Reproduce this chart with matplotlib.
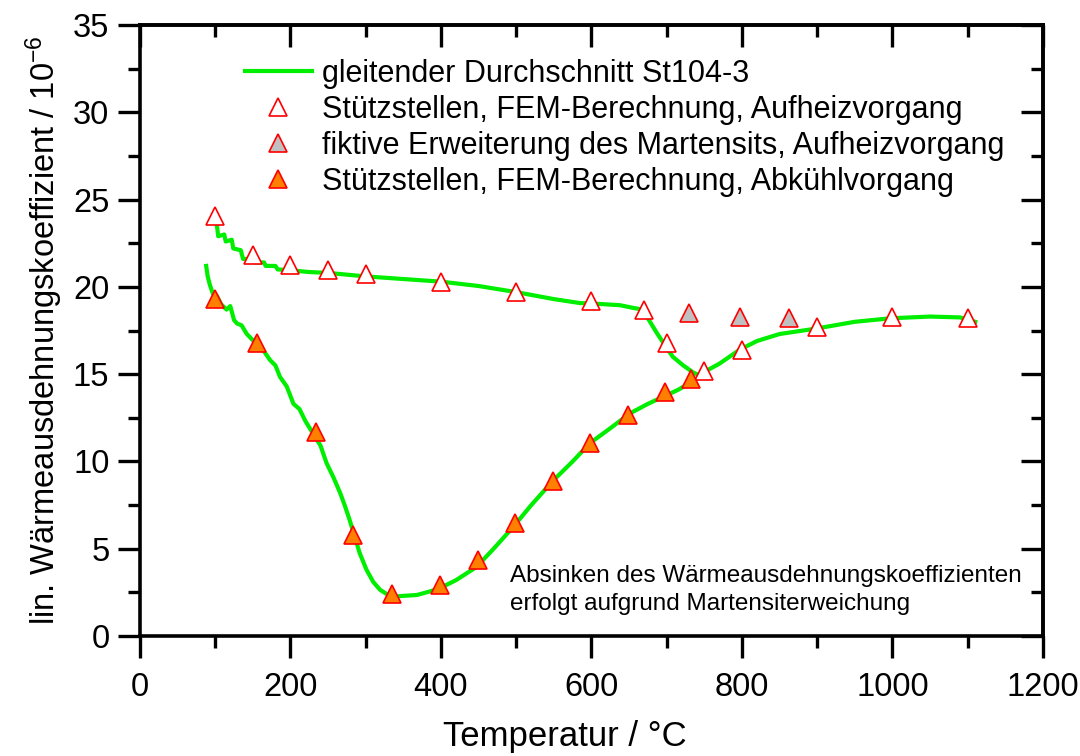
import matplotlib
matplotlib.use("Agg")
import matplotlib.pyplot as plt
from matplotlib.ticker import MultipleLocator

plt.rcParams['font.family'] = ['Liberation Sans', 'DejaVu Sans']
plt.rcParams['mathtext.fontset'] = 'custom'
plt.rcParams['mathtext.rm'] = 'Liberation Sans'
plt.rcParams['mathtext.it'] = 'Liberation Sans'

# --- data: smoothed measurement curve (gleitender Durchschnitt) ---
heat_T = [100, 102, 104, 112, 114, 122, 124, 134, 137, 150, 152, 165, 167, 180, 183,
          200, 225, 250, 275, 300, 350, 400, 450, 500, 550, 585, 600, 638, 655, 668,
          675, 687, 700, 708, 722, 735, 745, 753, 770, 797, 820, 850, 897, 950,
          997, 1050, 1090, 1110]
heat_y = [23.9, 23.6, 22.9, 23.0, 22.6, 22.7, 22.2, 22.1, 21.6, 21.6, 21.4, 21.4, 21.2, 21.2, 21.0,
          20.95, 20.85, 20.8, 20.7, 20.6, 20.45, 20.3, 20.05, 19.7, 19.3, 19.07, 19.05, 18.95, 18.8, 18.7,
          18.2, 17.35, 16.5, 16.0, 15.5, 15.1, 14.9, 15.2, 15.6, 16.4, 16.9, 17.3, 17.6, 18.0,
          18.2, 18.3, 18.25, 18.0]

cool_T = [88, 90, 93, 97, 102, 108, 115, 120, 125, 129, 135, 142, 151, 158, 165, 173, 180, 186,
          195, 204, 212, 220, 230, 240, 248, 257, 266, 272, 279, 286, 292, 301, 310, 319, 328,
          337, 350, 368, 385, 399, 420, 447, 470, 496, 520, 549, 575, 598, 625, 651, 675, 700,
          715, 731, 745]
cool_y = [21.2, 20.6, 20.1, 19.6, 19.5, 19.0, 18.7, 18.9, 18.1, 17.9, 17.8, 17.3, 16.9, 16.8, 16.3, 15.8, 15.5, 14.85,
          14.3, 13.3, 13.0, 12.3, 11.6, 10.9, 9.9, 9.1, 8.2, 7.5, 6.6, 5.6, 4.75, 3.8, 3.1, 2.65, 2.4,
          2.25, 2.3, 2.35, 2.55, 2.75, 3.2, 3.95, 5.0, 6.25, 7.5, 8.9, 10.0, 11.05, 11.9, 12.75, 13.3, 13.8,
          14.1, 14.5, 14.9]

# --- FEM support points, heating ---
fem_heat_T = [100, 150, 200, 250, 300, 400, 500, 600, 670, 700, 750, 800, 900, 1000, 1100]
fem_heat_y = [24.05, 21.8, 21.25, 20.96, 20.73, 20.27, 19.7, 19.2, 18.67, 16.78, 15.18, 16.38, 17.7, 18.27, 18.2]

# --- fictitious martensite extension, heating ---
fict_T = [730, 797, 862]
fict_y = [18.5, 18.27, 18.2]

# --- FEM support points, cooling ---
fem_cool_T = [100, 155, 234, 283, 335, 399, 449, 498, 549, 598, 649, 698, 732]
fem_cool_y = [19.3, 16.8, 11.7, 5.8, 2.4, 2.9, 4.35, 6.5, 8.9, 11.05, 12.65, 14.0, 14.7]

legend_labels = ["gleitender Durchschnitt St104-3",
                 "Stützstellen, FEM-Berechnung, Aufheizvorgang",
                 "fiktive Erweiterung des Martensits, Aufheizvorgang",
                 "Stützstellen, FEM-Berechnung, Abkühlvorgang"]

fig = plt.figure(figsize=(10.8, 7.56), dpi=100)
ax = fig.add_axes([0.1296, 0.1587, 0.8361, 0.8082])

green = '#00ee00'
ax.plot(heat_T, heat_y, color=green, lw=3.0, zorder=2, label=legend_labels[0])
ax.plot(cool_T, cool_y, color=green, lw=3.0, zorder=2)

ms = 13
ax.plot(fem_heat_T, fem_heat_y, ls='none', marker='^', ms=ms, mfc='white', mec='red',
        mew=1.2, zorder=4, label=legend_labels[1])
ax.plot(fict_T, fict_y, ls='none', marker='^', ms=ms, mfc='#c0c0c0', mec='red',
        mew=1.2, zorder=3, label=legend_labels[2])
ax.plot(fem_cool_T, fem_cool_y, ls='none', marker='^', ms=ms, mfc='#ff8000', mec='red',
        mew=1.2, zorder=5, label=legend_labels[3])

ax.set_xlim(0, 1200)
ax.set_ylim(0, 35)
ax.xaxis.set_major_locator(MultipleLocator(200))
ax.xaxis.set_minor_locator(MultipleLocator(100))
ax.yaxis.set_major_locator(MultipleLocator(5))
ax.yaxis.set_minor_locator(MultipleLocator(2.5))

for s in ax.spines.values():
    s.set_linewidth(2.6)

ax.tick_params(which='both', direction='out', width=2.4, labelsize=23.5, top=False, right=False)
ax.tick_params(which='major', length=16, pad=6)
ax.tick_params(axis='x', which='major', pad=10)
ax.tick_params(which='minor', length=8.5)

secx = ax.secondary_xaxis('top')
secx.xaxis.set_major_locator(MultipleLocator(200))
secx.xaxis.set_minor_locator(MultipleLocator(100))
secx.tick_params(which='both', direction='in', width=2.4, labeltop=False)
secx.tick_params(which='major', length=16)
secx.tick_params(which='minor', length=8.5)
secx.spines['top'].set_linewidth(2.6)

secy = ax.secondary_yaxis('right')
secy.yaxis.set_major_locator(MultipleLocator(5))
secy.yaxis.set_minor_locator(MultipleLocator(2.5))
secy.tick_params(which='both', direction='in', width=2.4, labelright=False)
secy.tick_params(which='major', length=16)
secy.tick_params(which='minor', length=8.5)
secy.spines['right'].set_linewidth(2.6)

ax.set_xlabel("Temperatur / °C", fontsize=25)
ax.xaxis.set_label_coords(0.4707, -0.138)
ax.set_ylabel("lin. Wärmeausdehnungskoeffizient / 10$^{\\mathregular{-6}}$", fontsize=23.5, labelpad=6)

leg = ax.legend(loc='upper left', bbox_to_anchor=(0.116, 0.945), frameon=False, fontsize=22,
                handlelength=2.2, handletextpad=0.33, labelspacing=0.2, borderaxespad=0,
                borderpad=0)

ax.text(492, 3.45, "Absinken des Wärmeausdehnungskoeffizienten", fontsize=17.5, va='center', ha='left')
ax.text(492, 1.85, "erfolgt aufgrund Martensiterweichung", fontsize=17.5, va='center', ha='left')

fig.savefig("out.png", dpi=100)
